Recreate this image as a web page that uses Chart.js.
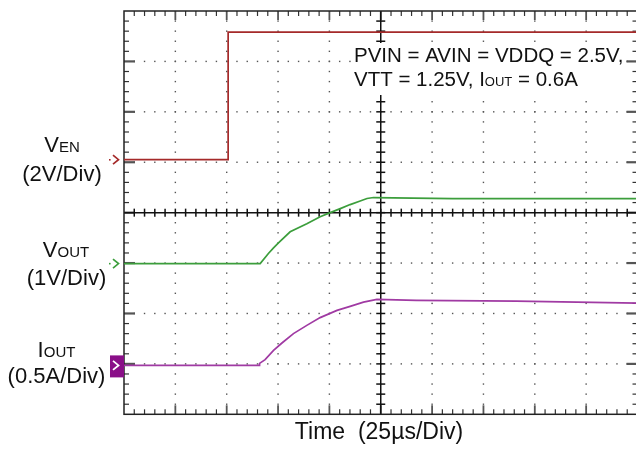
<!DOCTYPE html>
<html>
<head>
<meta charset="utf-8">
<script src="https://cdn.jsdelivr.net/npm/chart.js@4"></script>
<style>
  html, body { margin: 0; padding: 0; background: #fff; overflow: hidden; }
  #wrap { width: 636px; height: 454px; overflow: hidden; }
  canvas { display: block; }
</style>
</head>
<body>
<div id="wrap"><canvas id="scope" width="640" height="454" style="width:640px;height:454px"></canvas></div>
<script>
// Scope capture: EN step, VOUT soft-start, IOUT rise. Time in µs, channels in real units.
const venTime  = [0, 50.7, 50.7, 250];
const venVolts = [0, 0, 5.06, 5.06];

const voutTime  = [0, 66.3, 70.3, 72.8, 75.2, 80.9, 89.0, 95.5, 100.4, 105.3, 110.1, 115.0, 118.3, 121.5, 160, 200, 250];
const voutVolts = [0, 0, 0.20, 0.31, 0.41, 0.63, 0.79, 0.93, 1.01, 1.09, 1.17, 1.24, 1.29, 1.31, 1.29, 1.29, 1.29];

const ioutTime = [0, 65.8, 66.0, 68.7, 72.8, 76.9, 82.5, 89.0, 95.5, 103.7, 110.1, 116.6, 123.1, 142.3, 191, 250];
const ioutAmps = [0, 0, 0.02, 0.057, 0.149, 0.222, 0.315, 0.397, 0.474, 0.546, 0.586, 0.628, 0.655, 0.645, 0.638, 0.618];

// channel settings: units per division and where ground sits (in divisions from centre)
const CH = {
  ven:  { perDiv: 2,   zeroDiv: 1.05,  color: '#a52a2a' },
  vout: { perDiv: 1,   zeroDiv: -1.01, color: '#3c9e3c' },
  iout: { perDiv: 0.5, zeroDiv: -3.03, color: '#a03aa3' },
};
const US_PER_DIV = 25, X_DIVS = 10, Y_DIVS = 8;

function trace(times, vals, ch) {
  return times.map((t, i) => ({ x: t, y: vals[i] / ch.perDiv + ch.zeroDiv }));
}

const FONT = "'Liberation Sans', Arial, sans-serif";

function subText(ctx, main, sub, x, base, size, subScale, align) {
  ctx.font = size + 'px ' + FONT;
  const w1 = ctx.measureText(main).width;
  ctx.font = Math.round(size * subScale) + 'px ' + FONT;
  const w2 = ctx.measureText(sub).width;
  const x0 = align === 'center' ? x - (w1 + w2) / 2 : x;
  ctx.textAlign = 'left';
  ctx.font = size + 'px ' + FONT;
  ctx.fillText(main, x0, base);
  ctx.font = Math.round(size * subScale) + 'px ' + FONT;
  ctx.fillText(sub, x0 + w1, base);
  return x0 + w1 + w2;
}

function line(ctx, x1, y1, x2, y2) {
  ctx.beginPath(); ctx.moveTo(x1, y1); ctx.lineTo(x2, y2); ctx.stroke();
}

const graticule = {
  id: 'graticule',
  beforeDatasetsDraw(chart) {
    const { ctx, chartArea: a, scales: { x, y } } = chart;
    const px = d => x.getPixelForValue(d * US_PER_DIV);
    const py = d => y.getPixelForValue(d - Y_DIVS / 2);
    ctx.save();
    // dotted grid
    ctx.fillStyle = '#555';
    for (let d = 1; d < X_DIVS; d++) {
      if (d === X_DIVS / 2) continue;
      for (let m = 1; m < Y_DIVS * 5; m++) ctx.fillRect(px(d) - 0.7, py(m / 5) - 0.7, 1.4, 1.4);
    }
    for (let d = 1; d < Y_DIVS; d++) {
      if (d === Y_DIVS / 2) continue;
      for (let m = 1; m < X_DIVS * 5; m++) ctx.fillRect(px(m / 5) - 0.7, py(d) - 0.7, 1.4, 1.4);
    }
    // border ticks
    for (let m = 1; m < X_DIVS * 5; m++) {
      const major = m % 5 === 0;
      ctx.strokeStyle = major ? '#555' : '#333';
      ctx.lineWidth = major ? 1.8 : 1.2;
      const len = major ? 9 : 5;
      line(ctx, px(m / 5), a.top, px(m / 5), a.top + len);
      line(ctx, px(m / 5), a.bottom, px(m / 5), a.bottom - len);
    }
    for (let m = 1; m < Y_DIVS * 5; m++) {
      const major = m % 5 === 0;
      ctx.strokeStyle = major ? '#555' : '#333';
      ctx.lineWidth = major ? 2.2 : 1.2;
      const len = major ? 11 : 5;
      line(ctx, a.left, py(m / 5), a.left + len, py(m / 5));
      line(ctx, a.right, py(m / 5), a.right - len, py(m / 5));
    }
    // centre crosshair
    ctx.strokeStyle = '#111';
    ctx.lineWidth = 1.5;
    const cx = px(X_DIVS / 2), cy = py(Y_DIVS / 2);
    line(ctx, a.left, cy, a.right, cy);
    line(ctx, cx, a.top, cx, a.bottom);
    for (let m = 1; m < X_DIVS * 5; m++) line(ctx, px(m / 5), cy - 4, px(m / 5), cy + 4);
    for (let m = 1; m < Y_DIVS * 5; m++) line(ctx, cx - 4.5, py(m / 5), cx + 4.5, py(m / 5));
    // frame
    ctx.strokeStyle = '#222';
    ctx.lineWidth = 1.5;
    ctx.strokeRect(a.left, a.top, a.right - a.left, a.bottom - a.top);
    // white backing for the test-condition note
    ctx.fillStyle = '#fff';
    ctx.fillRect(351, 43, 272, 52);
    ctx.restore();
  },
  afterDraw(chart) {
    const { ctx, chartArea: a, scales: { y } } = chart;
    ctx.save();
    // ground markers
    const chevron = (yy, color, lw) => {
      ctx.strokeStyle = color; ctx.lineWidth = lw;
      ctx.beginPath();
      ctx.moveTo(a.left - 11, yy - 4.5); ctx.lineTo(a.left - 5.5, yy); ctx.lineTo(a.left - 11, yy + 4.5);
      ctx.stroke();
    };
    const yv = y.getPixelForValue(CH.ven.zeroDiv);
    const yo = y.getPixelForValue(CH.vout.zeroDiv);
    const yi = y.getPixelForValue(CH.iout.zeroDiv);
    chevron(yv, CH.ven.color, 1.7);
    ctx.fillStyle = CH.ven.color; ctx.fillRect(a.left - 15, yv - 0.7, 1.6, 1.6);
    chevron(yo, CH.vout.color, 1.7);
    ctx.fillStyle = CH.vout.color; ctx.fillRect(a.left - 15, yo - 0.7, 1.6, 1.6);
    ctx.fillStyle = '#8a0f88';
    ctx.fillRect(a.left - 14, yi - 10, 14, 22);
    chevron(yi, '#fff', 1.8);

    // channel labels
    ctx.fillStyle = '#111';
    ctx.textBaseline = 'alphabetic';
    subText(ctx, 'V', 'EN', 62, 151.5, 22, 0.66, 'center');
    ctx.textAlign = 'center'; ctx.font = '22px ' + FONT;
    ctx.fillText('(2V/Div)', 62, 181);
    subText(ctx, 'V', 'OUT', 66, 256.5, 22, 0.66, 'center');
    ctx.textAlign = 'center'; ctx.font = '22px ' + FONT;
    ctx.fillText('(1V/Div)', 66.5, 285);
    subText(ctx, 'I', 'OUT', 56.5, 356.5, 22, 0.66, 'center');
    ctx.textAlign = 'center'; ctx.font = '22px ' + FONT;
    ctx.fillText('(0.5A/Div)', 56.5, 382.5);

    // test conditions
    ctx.textAlign = 'left'; ctx.font = '20.5px ' + FONT;
    ctx.fillText('PVIN = AVIN = VDDQ = 2.5V,', 354, 61.5);
    const xe = subText(ctx, 'VTT = 1.25V, I', 'OUT', 354, 86, 20.5, 0.62, 'left');
    ctx.font = '20.5px ' + FONT;
    ctx.fillText(' = 0.6A', xe, 86);

    // time base
    ctx.textAlign = 'center'; ctx.font = '23px ' + FONT;
    ctx.fillText('Time  (25\u00b5s/Div)', 379, 439);
    ctx.restore();
  }
};

new Chart(document.getElementById('scope'), {
  type: 'line',
  data: {
    datasets: [
      { label: 'VEN', data: trace(venTime, venVolts, CH.ven), borderColor: CH.ven.color },
      { label: 'VOUT', data: trace(voutTime, voutVolts, CH.vout), borderColor: CH.vout.color },
      { label: 'IOUT', data: trace(ioutTime, ioutAmps, CH.iout), borderColor: CH.iout.color },
    ].map(ds => ({ ...ds, borderWidth: 1.7, pointRadius: 0, tension: 0, fill: false })),
  },
  options: {
    responsive: false, animation: false, devicePixelRatio: 1,
    layout: { padding: { left: 124, top: 11, right: 2.5, bottom: 39.7 } },
    plugins: { legend: { display: false }, tooltip: { enabled: false } },
    scales: {
      x: { type: 'linear', min: 0, max: X_DIVS * US_PER_DIV, display: false },
      y: { min: -Y_DIVS / 2, max: Y_DIVS / 2, display: false },
    },
  },
  plugins: [graticule],
});
</script>
</body>
</html>
